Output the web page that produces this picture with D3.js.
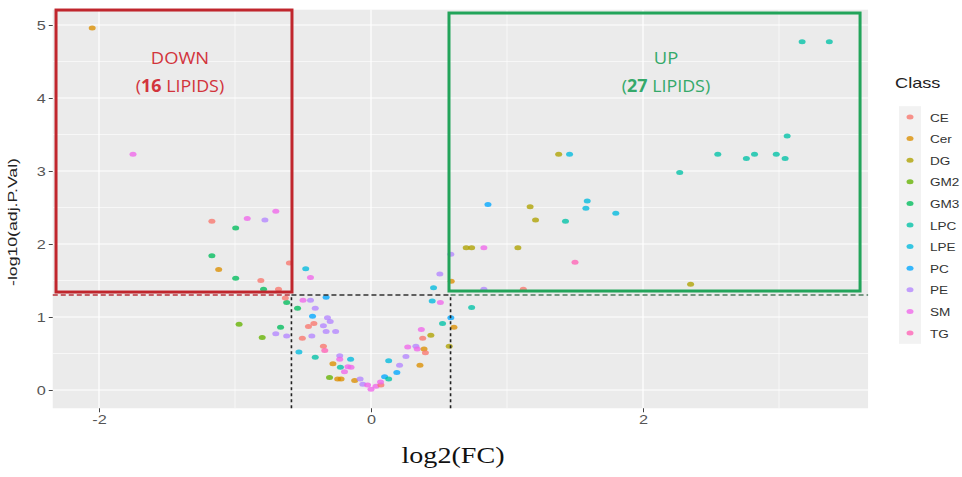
<!DOCTYPE html>
<html>
<head>
<meta charset="utf-8">
<script src="https://cdn.jsdelivr.net/npm/d3@7"></script>
<style>
  body { margin: 0; background: #fff; }
  text { font-family: "Liberation Sans", Arial, sans-serif; }
</style>
</head>
<body>
<script>
var classes = ["CE", "Cer", "DG", "GM2", "GM3", "LPC", "LPE", "PC", "PE", "SM", "TG"];
var classColors = ["#F8766D", "#DB8E00", "#AEA200", "#64B200", "#00BD5C", "#00C1A7",
                   "#00BADE", "#00A6FF", "#B385FF", "#EF67EB", "#FF63B6"];
var xTicks = [-2, 0, 2];
var yTicks = [0, 1, 2, 3, 4, 5];

// one entry per lipid
var pointClass = [
  "Cer","SM","CE","GM3","SM","PE","SM","GM3","Cer","GM3","CE","GM3","CE","CE",
  "LPE","SM","GM3","CE","GM3","SM","PE","PC","PE","PC","PE","PE","CE","CE","PE","PE",
  "PE","PE","CE","GM2","GM3","GM2","PE","PE","LPE","LPC","CE","TG","Cer","PE","SM",
  "LPC","SM","SM","GM2","Cer","Cer","LPE","SM","Cer","PE","PE","SM","SM","SM","CE",
  "SM","PC","LPC","LPE","PC","PE","PE","SM","PE","SM","SM","CE","Cer","CE","Cer","DG",
  "PE","LPE","LPE","SM","PC","LPC","Cer","DG","LPC",
  "DG","DG","SM","DG","TG","PE","CE","PC","DG","DG","LPC","LPE","LPE","LPE","DG","LPE",
  "LPC","LPC","LPC","LPC","LPC","LPC","LPC","LPC","LPC","DG","PE","Cer"
];
var pointLog2FC = [
  -2.05,-1.75,-1.17,-0.995,-0.91,-0.78,-0.70,-1.17,-1.12,-0.995,-0.81,-0.79,-0.68,-0.60,
  -0.48,-0.445,-0.62,-0.63,-0.54,-0.50,-0.445,-0.33,-0.41,-0.43,-0.32,-0.30,-0.42,-0.46,-0.35,-0.33,
  -0.26,-0.435,-0.505,-0.97,-0.665,-0.80,-0.70,-0.62,-0.53,-0.41,-0.35,-0.34,-0.28,-0.23,-0.23,
  -0.225,-0.17,-0.195,-0.305,-0.245,-0.22,-0.15,-0.147,-0.12,-0.08,-0.06,-0.025,0.0,0.037,0.073,
  0.07,0.10,0.13,0.13,0.19,0.21,0.257,0.27,0.33,0.34,0.37,0.38,0.39,0.40,0.36,0.44,
  0.506,0.46,0.45,0.51,0.587,0.526,0.61,0.575,0.74,
  0.70,0.74,0.83,1.08,1.50,0.83,1.12,0.86,1.17,1.21,1.43,1.59,1.58,1.80,1.38,1.46,
  3.17,3.37,2.27,2.55,2.76,2.82,2.98,3.045,3.06,2.35,0.587,0.59
];
var pointNegLogP = [
  4.96,3.23,2.31,2.22,2.35,2.33,2.45,1.84,1.65,1.53,1.50,1.38,1.38,1.74,
  1.66,1.54,1.20,1.26,1.12,1.23,1.23,1.27,1.12,1.01,0.99,0.94,0.91,0.87,0.88,0.80,
  0.80,0.74,0.71,0.90,0.86,0.72,0.77,0.74,0.52,0.45,0.60,0.54,0.36,0.47,0.42,
  0.31,0.32,0.25,0.17,0.15,0.15,0.42,0.31,0.13,0.15,0.08,0.07,0.01,0.05,0.07,
  0.11,0.18,0.15,0.40,0.24,0.34,0.46,0.59,0.60,0.56,0.83,0.71,0.56,0.51,0.34,0.75,
  1.59,1.40,1.22,1.20,0.99,0.91,0.86,0.60,1.13,
  1.95,1.95,1.95,1.95,1.75,1.38,1.38,2.54,2.51,2.33,2.31,2.59,2.49,2.42,3.23,3.23,
  4.77,4.77,2.98,3.23,3.17,3.23,3.23,3.17,3.48,1.45,1.86,1.49
];

var fcCut = 0.585, pCut = 1.301;

var width = 962, height = 477;

var svg = d3.select("body").append("svg")
    .attr("width", width)
    .attr("height", height);

var x = d3.scaleLinear().domain([-2, 2]).range([99, 643]);
var y = d3.scaleLinear().domain([0, 5]).range([390, 25]);
var color = d3.scaleOrdinal().domain(classes).range(classColors);

var xLim = [-2.34, 3.655], yLim = [-0.25, 5.21];

// horizontally stretched text, like the picture
function stretchText(g, px, py, str, size, sx, anchor) {
  return g.append("text")
      .attr("transform", "translate(" + px + "," + py + ") scale(" + sx + ",1)")
      .attr("text-anchor", anchor || "start")
      .style("font-size", size + "px")
      .text(str);
}

// panel
svg.append("rect")
    .attr("x", x(xLim[0])).attr("y", y(yLim[1]))
    .attr("width", x(xLim[1]) - x(xLim[0]))
    .attr("height", y(yLim[0]) - y(yLim[1]))
    .attr("fill", "#ebebeb");

var grid = svg.append("g");
grid.selectAll("line.xminor").data([-1, 1, 3]).enter().append("line")
    .attr("x1", function(d) { return x(d); }).attr("x2", function(d) { return x(d); })
    .attr("y1", y(yLim[0])).attr("y2", y(yLim[1]))
    .attr("stroke", "#fff").attr("stroke-width", 0.6);
grid.selectAll("line.yminor").data([0.5, 1.5, 2.5, 3.5, 4.5]).enter().append("line")
    .attr("y1", function(d) { return y(d); }).attr("y2", function(d) { return y(d); })
    .attr("x1", x(xLim[0])).attr("x2", x(xLim[1]))
    .attr("stroke", "#fff").attr("stroke-width", 0.6);
grid.selectAll("line.xmajor").data(xTicks).enter().append("line")
    .attr("x1", function(d) { return x(d); }).attr("x2", function(d) { return x(d); })
    .attr("y1", y(yLim[0])).attr("y2", y(yLim[1]))
    .attr("stroke", "#fff").attr("stroke-width", 1.2);
grid.selectAll("line.ymajor").data(yTicks).enter().append("line")
    .attr("y1", function(d) { return y(d); }).attr("y2", function(d) { return y(d); })
    .attr("x1", x(xLim[0])).attr("x2", x(xLim[1]))
    .attr("stroke", "#fff").attr("stroke-width", 1.2);

// axes
var xAxis = svg.append("g")
    .attr("transform", "translate(0," + y(yLim[0]) + ")")
    .call(d3.axisBottom(x).tickValues(xTicks).tickSize(4).tickPadding(3)
      .tickFormat(function(d) { return d < 0 ? "-" + Math.abs(d) : d; }));
var yAxis = svg.append("g")
    .attr("transform", "translate(" + x(xLim[0]) + ",0)")
    .call(d3.axisLeft(y).tickValues(yTicks).tickSize(4).tickPadding(3)
      .tickFormat(d3.format("d")));
[xAxis, yAxis].forEach(function(a) {
  a.select(".domain").remove();
  a.selectAll(".tick line").attr("stroke", "#444");
  a.selectAll(".tick text").attr("fill", "#555")
      .style("font-size", "13px")
      .style("font-family", "Liberation Sans, Arial, sans-serif");
});
xAxis.selectAll(".tick text").attr("transform", "scale(1.25,1)");
yAxis.selectAll(".tick text").attr("x", -7 / 1.25).attr("transform", "scale(1.25,1)");

// points
svg.append("g").selectAll("ellipse")
    .data(pointClass.map(function(c, i) { return { c: c, fc: pointLog2FC[i], p: pointNegLogP[i] }; }))
  .enter().append("ellipse")
    .attr("cx", function(d) { return x(d.fc); })
    .attr("cy", function(d) { return y(d.p); })
    .attr("rx", 3.5).attr("ry", 2.5)
    .attr("fill", function(d) { return color(d.c); })
    .attr("fill-opacity", 0.78);

// threshold lines
var cuts = svg.append("g").attr("fill", "none").attr("stroke-width", 1.6);
cuts.append("line")
    .attr("x1", x(xLim[0])).attr("x2", x(-fcCut))
    .attr("y1", y(pCut)).attr("y2", y(pCut))
    .attr("stroke", "#b8323a").attr("stroke-dasharray", "5,3");
cuts.append("line")
    .attr("x1", x(-fcCut)).attr("x2", x(fcCut))
    .attr("y1", y(pCut)).attr("y2", y(pCut))
    .attr("stroke", "#333").attr("stroke-dasharray", "5,3");
cuts.append("line")
    .attr("x1", x(fcCut)).attr("x2", x(xLim[1]))
    .attr("y1", y(pCut)).attr("y2", y(pCut))
    .attr("stroke", "#4f7d60").attr("stroke-dasharray", "5,3");
cuts.selectAll("line.v").data([-fcCut, fcCut]).enter().append("line")
    .attr("x1", function(d) { return x(d); }).attr("x2", function(d) { return x(d); })
    .attr("y1", y(yLim[0])).attr("y2", y(pCut))
    .attr("stroke", "#222").attr("stroke-dasharray", "3,3");

// highlight boxes
var boxes = [
  { x0: -2.316, x1: -0.581, y0: 1.342, y1: 5.205, stroke: "#c0262d" },
  { x0: 0.5735, x1: 3.596, y0: 1.356, y1: 5.164, stroke: "#22a45a" }
];
svg.append("g").selectAll("rect").data(boxes).enter().append("rect")
    .attr("x", function(d) { return x(d.x0); })
    .attr("y", function(d) { return y(d.y1); })
    .attr("width", function(d) { return x(d.x1) - x(d.x0); })
    .attr("height", function(d) { return y(d.y0) - y(d.y1); })
    .attr("fill", "none")
    .attr("stroke", function(d) { return d.stroke; })
    .attr("stroke-width", 3);

// box labels
var ann = svg.append("g").style("font-family", "Open Sans, sans-serif");
function boxLabel(cx, fill, word, count) {
  stretchText(ann, cx, 64, word, 17, 1.08, "middle").attr("fill", fill)
      .style("font-family", "Open Sans, sans-serif");
  var t = ann.append("text")
      .attr("transform", "translate(" + cx + ",92) scale(1.05,1)")
      .attr("text-anchor", "middle")
      .attr("fill", fill)
      .style("font-size", "17px")
      .style("font-family", "Open Sans, sans-serif");
  t.append("tspan").text("(");
  t.append("tspan").style("font-weight", "bold").text(count);
  t.append("tspan").text(" LIPIDS)");
}
boxLabel(180, "#d2343c", "DOWN", "16");
boxLabel(666, "#35a96a", "UP", "27");

// axis titles
svg.append("text")
    .attr("x", 453).attr("y", 463)
    .attr("text-anchor", "middle")
    .style("font-family", "Liberation Serif, Times New Roman, serif")
    .style("font-size", "23px")
    .attr("textLength", 103)
    .attr("lengthAdjust", "spacingAndGlyphs")
    .attr("fill", "#111")
    .text("log2(FC)");
svg.append("text")
    .attr("transform", "translate(17,222) rotate(-90)")
    .attr("text-anchor", "middle")
    .style("font-size", "13px")
    .attr("textLength", 128)
    .attr("lengthAdjust", "spacingAndGlyphs")
    .attr("fill", "#222")
    .text("-log10(adj.P.Val)");

// legend
var legend = svg.append("g");
var rowH = 21.6, row0 = 117;
stretchText(legend, 895, 88, "Class", 14, 1.3).attr("fill", "#222");
legend.append("rect")
    .attr("x", 899).attr("y", row0 - rowH / 2)
    .attr("width", 22).attr("height", rowH * classes.length)
    .attr("fill", "#f2f2f2");
var item = legend.selectAll("g.item").data(classes).enter().append("g")
    .attr("transform", function(d, i) { return "translate(0," + (row0 + i * rowH) + ")"; });
item.append("ellipse")
    .attr("cx", 910).attr("cy", 0)
    .attr("rx", 3.5).attr("ry", 2.5)
    .attr("fill", function(d) { return color(d); })
    .attr("fill-opacity", 0.78);
item.each(function(d) {
  stretchText(d3.select(this), 930, 4.5, d, 11.5, 1.18).attr("fill", "#333");
});
</script>
</body>
</html>
